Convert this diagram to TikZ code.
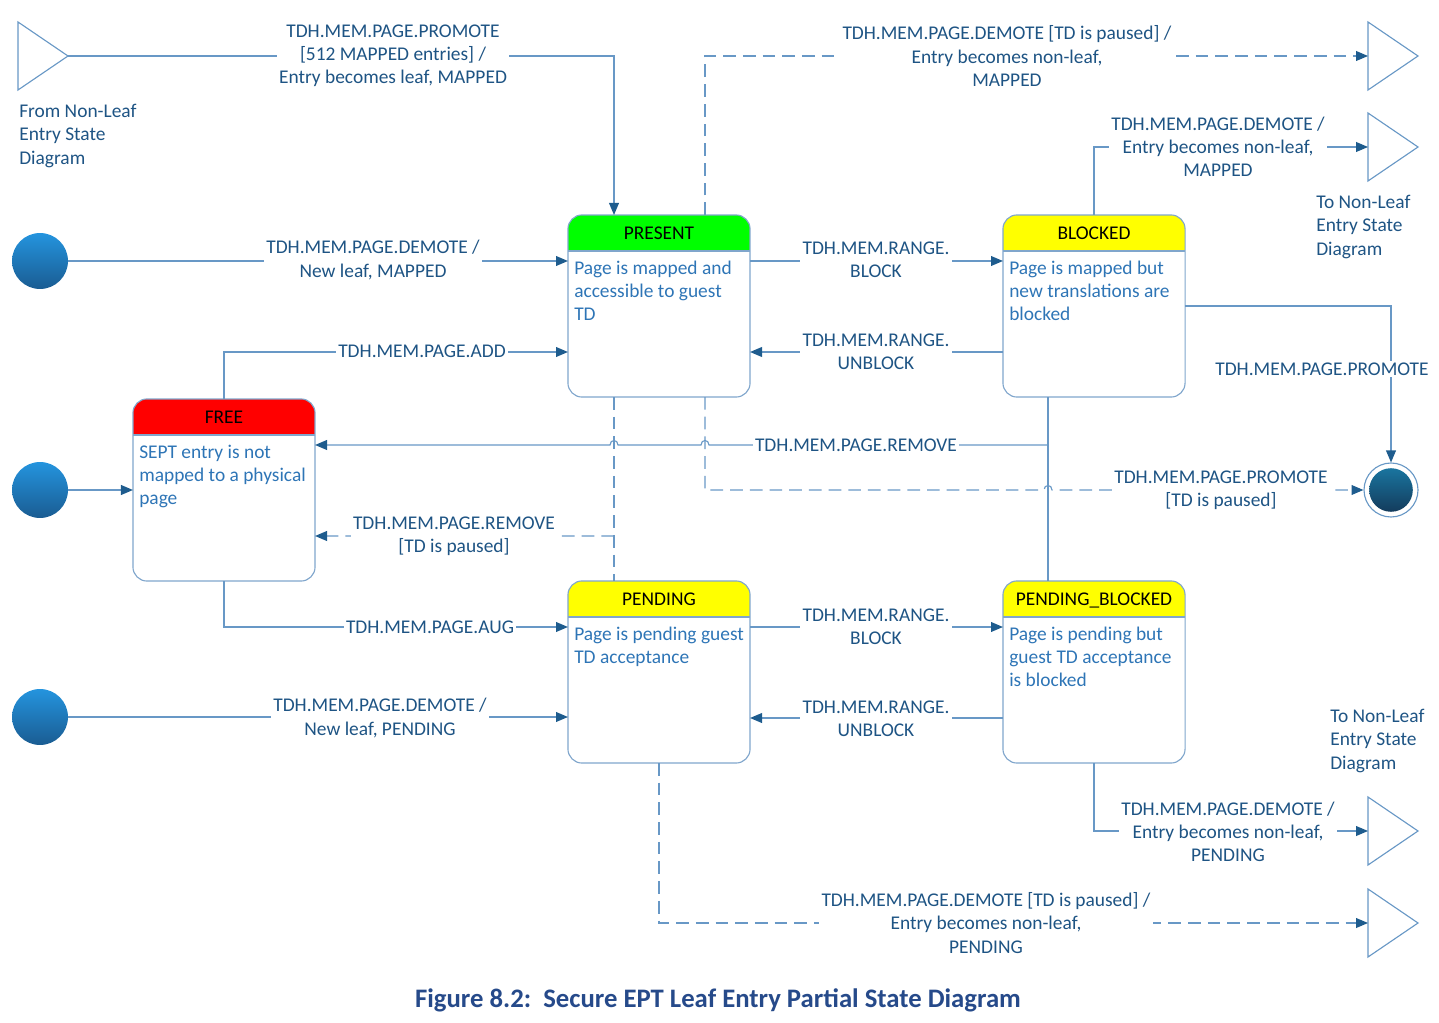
\documentclass[tikz,border=0pt]{standalone}
\usepackage{fontspec}
\setmainfont{Carlito}
\usetikzlibrary{arrows.meta,calc}
\definecolor{linkblue}{RGB}{104,152,198}
\definecolor{tipblue}{RGB}{30,92,142}
\definecolor{lbltext}{RGB}{30,84,132}
\definecolor{desctext}{RGB}{46,117,182}
\definecolor{titleblue}{RGB}{38,74,138}
\definecolor{boxline}{RGB}{128,166,204}
\definecolor{hdgreen}{RGB}{0,255,0}
\definecolor{hdred}{RGB}{255,0,0}
\definecolor{hdyellow}{RGB}{255,255,0}
\definecolor{inittop}{RGB}{36,148,222}
\definecolor{initbot}{RGB}{26,92,146}
\tikzstyle{none}=[]
\tikzstyle{wire}=[draw=linkblue, line width=0.8pt]
\tikzstyle{link}=[wire, -{Triangle[length=8.5pt,width=7pt,color=tipblue]}]
\tikzstyle{dwire}=[wire, dash pattern=on 9pt off 5pt]
\tikzstyle{dlink}=[link, dash pattern=on 9pt off 5pt]
\tikzstyle{statebox}=[minimum width=129.5pt, minimum height=129.5pt, inner sep=0pt, outer sep=0pt]
\tikzstyle{heading}=[anchor=base, text=black, inner sep=0pt]
\tikzstyle{desc}=[anchor=north west, text=desctext, align=left, inner sep=0pt]
\tikzstyle{lbl}=[text=lbltext, fill=white, align=center, inner xsep=1.5pt, inner ysep=1pt]
\tikzstyle{note}=[anchor=west, text=lbltext, align=left, inner sep=0pt]
\tikzstyle{initstate}=[circle, minimum size=39.8pt, inner sep=0pt, top color=inittop, bottom color=initbot, draw=none]
\tikzstyle{portal}=[draw=linkblue, line width=0.8pt, fill=white, line join=miter]
\newcommand{\stateblock}[6]{%
    \node [style=statebox] (#1) at (#2, #3) {};
    \begin{scope}
        \clip [rounded corners=10pt] (#1.south west) rectangle (#1.north east);
        \fill [#4] (#1.north west) rectangle ([yshift=-25.6pt]#1.north east);
    \end{scope}
    \draw [boxline, line width=0.8pt] ([yshift=-25.6pt]#1.north west) -- ([yshift=-25.6pt]#1.north east);
    \draw [boxline, line width=0.8pt, rounded corners=10pt] (#1.south west) rectangle (#1.north east);
    \node [style=heading] at ([yshift=-17.4pt]#1.north) {#5};
    \node [style=desc] at ([xshift=4.3pt, yshift=-32.4pt]#1.north west) {#6};
}

\begin{document}
\begin{tikzpicture}[x=0.025cm, y=-0.025cm, every node/.style={font=\fontsize{13.8}{16.4}\selectfont}]
    \useasboundingbox (0, 0) rectangle (1439, 1023);

    \stateblock{present}{659}{306}{hdgreen}{PRESENT}{Page is mapped and\\accessible to guest\\TD}
    \stateblock{blocked}{1094}{306}{hdyellow}{BLOCKED}{Page is mapped but\\new translations are\\blocked}
    \stateblock{free}{224}{490}{hdred}{FREE}{SEPT entry is not\\mapped to a physical\\page}
    \stateblock{pending}{659}{672}{hdyellow}{PENDING}{Page is pending guest\\TD acceptance}
    \stateblock{pblocked}{1094}{672}{hdyellow}{PENDING\_BLOCKED}{Page is pending but\\guest TD acceptance\\is blocked}

    \node [style=initstate] (init1) at (40, 261) {};
    \node [style=initstate] (init2) at (40, 490) {};
    \node [style=initstate] (init3) at (40, 717) {};

    \node [circle, draw=linkblue, line width=0.8pt, fill=white, minimum size=38.4pt, inner sep=0pt] (final) at (1391, 490) {};
    \node [circle, minimum size=31pt, inner sep=0pt, top color=tipblue!85!cyan, bottom color=tipblue!65!black] (finalcore) at (final) {};

    \draw [style=portal] (18, 22) -- (68, 56) -- (18, 90) -- cycle;
    \draw [style=portal] (1368, 22) -- (1418, 56) -- (1368, 90) -- cycle;
    \draw [style=portal] (1368, 113) -- (1418, 147) -- (1368, 181) -- cycle;
    \draw [style=portal] (1368, 797) -- (1418, 831) -- (1368, 865) -- cycle;
    \draw [style=portal] (1368, 889) -- (1418, 923) -- (1368, 957) -- cycle;
    \coordinate (fromleaf) at (68, 56);
    \coordinate (toleaf1) at (1368, 56);
    \coordinate (toleaf2) at (1368, 147);
    \coordinate (toleaf3) at (1368, 831);
    \coordinate (toleaf4) at (1368, 923);

    \draw [style=link] (fromleaf) -| ($(present.north)+(-45, 0)$);
    \draw [style=dlink] ($(present.north)+(46, 0)$) |- (toleaf1);
    \draw [style=link] (blocked.north) |- (toleaf2);
    \draw [style=link] (init1) -- ($(present.west)+(0, -45)$);
    \draw [style=link] ($(present.east)+(0, -45)$) -- ($(blocked.west)+(0, -45)$);
    \draw [style=link] ($(blocked.west)+(0, 46)$) -- ($(present.east)+(0, 46)$);
    \draw [style=link] (free.north) |- ($(present.west)+(0, 46)$);
    \draw [style=link] (blocked.east) -| (final.north);
    \draw [style=wire] ($(blocked.south)+(-46, 0)$) -- ($(pblocked.north)+(-46, 0)$);
    \draw [style=link] ($(blocked.south)+(-46, 48)$) -- (709, 445) .. controls (709, 439) and (701, 439) .. (701, 445)
        -- (618, 445) .. controls (618, 439) and (610, 439) .. (610, 445) -- ($(free.east)+(0, -45)$);
    \draw [style=dlink] ($(present.south)+(46, 0)$) -- (705, 490) -- (1044, 490)
        .. controls (1044, 484) and (1052, 484) .. (1052, 490) -- (final.west);
    \draw [style=dwire] ($(present.south)+(-45, 0)$) -- ($(pending.north)+(-45, 0)$);
    \draw [style=dlink] ($(pending.north)+(-45, -45)$) -- ($(free.east)+(0, 46)$);
    \draw [style=link] (init2) -- (free.west);
    \draw [style=link] (free.south) |- ($(pending.west)+(0, -45)$);
    \draw [style=link] (init3) -- ($(pending.west)+(0, 45)$);
    \draw [style=link] ($(pending.east)+(0, -45)$) -- ($(pblocked.west)+(0, -45)$);
    \draw [style=link] ($(pblocked.west)+(0, 46)$) -- ($(pending.east)+(0, 46)$);
    \draw [style=link] (pblocked.south) |- (toleaf3);
    \draw [style=dlink] (pending.south) |- (toleaf4);

    \node [style=lbl] (l0) at (393, 56) {TDH.MEM.PAGE.PROMOTE\\{[}512 MAPPED entries{]} /\\Entry becomes leaf, MAPPED};
    \node [style=lbl] (l1) at (1007, 56) {TDH.MEM.PAGE.DEMOTE [TD is paused] /\\Entry becomes non-leaf,\\MAPPED};
    \node [style=lbl] (l2) at (1218, 147) {TDH.MEM.PAGE.DEMOTE /\\Entry becomes non-leaf,\\MAPPED};
    \node [style=lbl] (l3) at (373, 260) {TDH.MEM.PAGE.DEMOTE /\\New leaf, MAPPED};
    \node [style=lbl] (l4) at (876, 260) {TDH.MEM.RANGE.\\BLOCK};
    \node [style=lbl] (l5) at (876, 352) {TDH.MEM.RANGE.\\UNBLOCK};
    \node [style=lbl] (l6) at (422, 351) {TDH.MEM.PAGE.ADD};
    \node [style=lbl] (l7) at (1322, 369) {TDH.MEM.PAGE.PROMOTE};
    \node [style=lbl] (l8) at (856, 445) {TDH.MEM.PAGE.REMOVE};
    \node [style=lbl] (l9) at (1221, 490) {TDH.MEM.PAGE.PROMOTE\\{[}TD is paused{]}};
    \node [style=lbl] (l10) at (454, 536) {TDH.MEM.PAGE.REMOVE\\{[}TD is paused{]}};
    \node [style=lbl] (l11) at (430, 627) {TDH.MEM.PAGE.AUG};
    \node [style=lbl] (l12) at (380, 718) {TDH.MEM.PAGE.DEMOTE /\\New leaf, PENDING};
    \node [style=lbl] (l13) at (876, 627) {TDH.MEM.RANGE.\\BLOCK};
    \node [style=lbl] (l14) at (876, 719) {TDH.MEM.RANGE.\\UNBLOCK};
    \node [style=lbl] (l15) at (1228, 832) {TDH.MEM.PAGE.DEMOTE /\\Entry becomes non-leaf,\\PENDING};
    \node [style=lbl] (l16) at (986, 923) {TDH.MEM.PAGE.DEMOTE [TD is paused] /\\Entry becomes non-leaf,\\PENDING};

    \node [style=note] (n0) at (19, 136) {From Non-Leaf\\Entry State\\Diagram};
    \node [style=note] (n1) at (1316, 227) {To Non-Leaf\\Entry State\\Diagram};
    \node [style=note] (n2) at (1330, 741) {To Non-Leaf\\Entry State\\Diagram};

    \node [text=titleblue, font=\bfseries\fontsize{19}{23}\selectfont] (title) at (718, 1000) {Figure 8.2:\ \ Secure EPT Leaf Entry Partial State Diagram};
\end{tikzpicture}
\end{document}
